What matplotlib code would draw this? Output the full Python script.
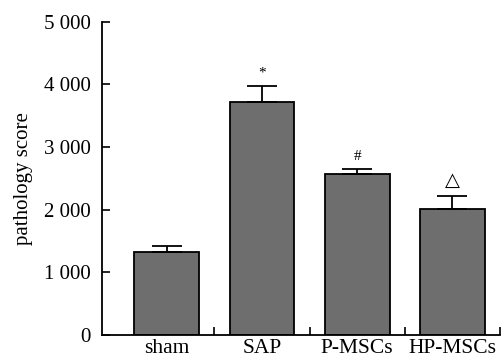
import matplotlib
matplotlib.use("Agg")
import matplotlib.pyplot as plt
from matplotlib.ticker import FuncFormatter

categories = ["sham", "SAP", "P-MSCs", "HP-MSCs"]
values = [1320, 3720, 2575, 2015]
errors = [100, 260, 75, 210]
marks = ["", "*", "#", "\u25b3"]
yticks = [0, 1000, 2000, 3000, 4000, 5000]

plt.rcParams['font.family'] = ['Liberation Serif', 'DejaVu Serif']

fig = plt.figure(figsize=(5.02, 3.59), dpi=100)
ax = fig.add_axes([0.203, 0.0669, 0.793, 0.8727])

x = list(range(len(categories)))
ax.bar(x, values, width=0.68, color="#6e6e6e", edgecolor="black", linewidth=1.3,
       yerr=[[0]*len(errors), errors], capsize=11,
       error_kw=dict(elinewidth=1.3, capthick=1.3, ecolor="black"))

for xi, v, e, m in zip(x, values, errors, marks):
    if m == "\u25b3":
        ax.text(xi, v + e + 90, m, ha="center", va="bottom", fontsize=14,
                family=['DejaVu Sans'])
    elif m:
        ax.text(xi, v + e + 90, m, ha="center", va="bottom", fontsize=11)

ax.set_xlim(-0.68, 3.5)
ax.set_ylim(0, 5000)
ax.set_yticks(yticks)
ax.yaxis.set_major_formatter(FuncFormatter(lambda v, p: f"{int(v):,}".replace(",", " ")))
ax.set_xticks([0.5, 1.5, 2.5, 3.5])
ax.set_xticklabels([])
ax.tick_params(axis='x', direction='in', length=6, width=1.2)
ax.tick_params(axis='y', direction='in', length=6, width=1.2, labelsize=15, pad=8)
for xi, c in zip(x, categories):
    ax.text(xi, -0.073, c, transform=ax.get_xaxis_transform(), ha="center",
            va="bottom", fontsize=15.5)

ax.spines['top'].set_visible(False)
ax.spines['right'].set_visible(False)
ax.spines['left'].set_linewidth(1.3)
ax.spines['bottom'].set_linewidth(1.3)
ax.set_ylabel("pathology score", fontsize=15, labelpad=8)

fig.savefig("out.png", dpi=100)
